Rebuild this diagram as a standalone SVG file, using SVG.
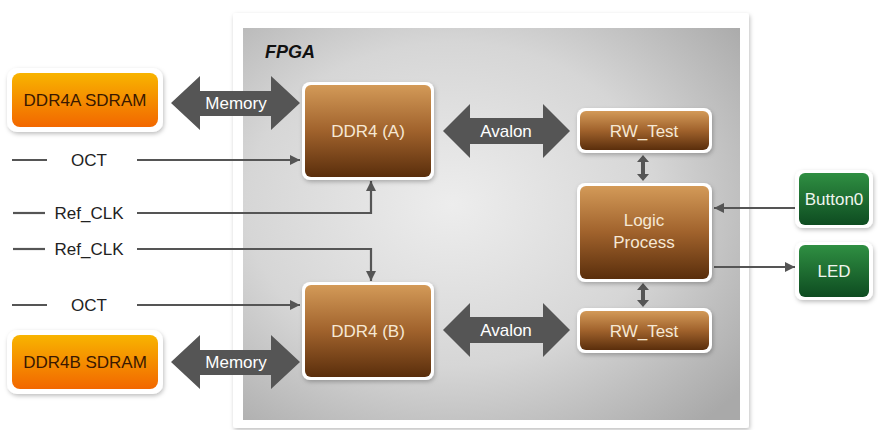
<svg xmlns="http://www.w3.org/2000/svg" width="878" height="430" viewBox="0 0 878 430">
<defs>
<radialGradient id="fpgaBg" cx="0.42" cy="0.45" r="0.75">
<stop offset="0" stop-color="#ededed"/>
<stop offset="0.55" stop-color="#d6d6d6"/>
<stop offset="1" stop-color="#a9a9a9"/>
</radialGradient>
<linearGradient id="brown" x1="0" y1="0" x2="0" y2="1">
<stop offset="0" stop-color="#d39a58"/>
<stop offset="0.5" stop-color="#a0622c"/>
<stop offset="1" stop-color="#5a2e0c"/>
</linearGradient>
<linearGradient id="orange" x1="0" y1="0" x2="0" y2="1">
<stop offset="0" stop-color="#f8b400"/>
<stop offset="1" stop-color="#f26700"/>
</linearGradient>
<linearGradient id="green" x1="0" y1="0" x2="0" y2="1">
<stop offset="0" stop-color="#2f8f42"/>
<stop offset="1" stop-color="#0e4c21"/>
</linearGradient>
<filter id="sh" x="-20%" y="-20%" width="140%" height="140%">
<feDropShadow dx="1" dy="2" stdDeviation="2" flood-color="#000" flood-opacity="0.25"/>
</filter>
<marker id="ah" viewBox="0 0 10 10" refX="10" refY="5" markerWidth="10" markerHeight="10" markerUnits="userSpaceOnUse" orient="auto">
<path d="M0,0 L10,5 L0,10 z" fill="#555"/>
</marker>
<style>
.wb{fill:#fff;filter:url(#sh);}
.lbl{font-family:"Liberation Sans",Arial,sans-serif;font-size:17px;text-anchor:middle;}
.bt{fill:#f6e8d4;}
.ot{fill:#3a1800;}
.gt{fill:#f0f5ee;}
.wt{fill:#fff;}
.kt{fill:#222;}
.ln{stroke:#555;stroke-width:2.2;fill:none;}
.fat{fill:#555;}
</style>
</defs>
<rect width="878" height="430" fill="#fff"/>
<g id="fpga">
<rect x="233" y="13" width="516" height="415" rx="3" fill="#fff" filter="url(#sh)"/>
<rect x="243" y="28" width="497" height="392" fill="url(#fpgaBg)"/>
<text x="265" y="58" font-family="Liberation Sans,Arial,sans-serif" font-size="18" font-weight="bold" font-style="italic" fill="#111">FPGA</text>
</g>
<g id="connectors">
<polygon class="fat" points="171,103 200,76 200,91 271,91 271,76 300,103 271,130 271,116 200,116 200,130"/>
<text class="lbl wt" x="236" y="109">Memory</text>
<polygon class="fat" points="171,362 200,335 200,350 271,350 271,335 300,362 271,389 271,375 200,375 200,389"/>
<text class="lbl wt" x="236" y="368">Memory</text>
<polygon class="fat" points="443,131 470,104 470,118 543,118 543,104 570,131 543,158 543,144 470,144 470,158"/>
<text class="lbl wt" x="506" y="137">Avalon</text>
<polygon class="fat" points="443,330 470,303 470,317 543,317 543,303 570,330 543,357 543,343 470,343 470,357"/>
<text class="lbl wt" x="506" y="336">Avalon</text>
<polygon class="fat" points="643,155 649,162 645,162 645,174 649,174 643,181 637,174 641,174 641,162 637,162"/>
<polygon class="fat" points="643,283 649,290 645,290 645,300 649,300 643,307 637,300 641,300 641,290 637,290"/>
<line class="ln" x1="12" y1="160" x2="47" y2="160"/>
<text class="lbl kt" x="89" y="166">OCT</text>
<line class="ln" x1="137" y1="160" x2="300" y2="160" marker-end="url(#ah)"/>
<line class="ln" x1="12" y1="305" x2="47" y2="305"/>
<text class="lbl kt" x="89" y="311">OCT</text>
<line class="ln" x1="137" y1="305" x2="300" y2="305" marker-end="url(#ah)"/>
<line class="ln" x1="13" y1="213" x2="45" y2="213"/>
<text class="lbl kt" x="89" y="219">Ref_CLK</text>
<polyline class="ln" points="137,213 371,213 371,181" marker-end="url(#ah)"/>
<line class="ln" x1="13" y1="249" x2="45" y2="249"/>
<text class="lbl kt" x="89" y="255">Ref_CLK</text>
<polyline class="ln" points="137,249 371,249 371,281" marker-end="url(#ah)"/>
<line class="ln" x1="795" y1="208" x2="714" y2="208" marker-end="url(#ah)"/>
<line class="ln" x1="714" y1="267" x2="795" y2="267" marker-end="url(#ah)"/>
</g>
<g id="ddr4a_sdram">
<rect class="wb" x="7" y="68" width="156" height="64" rx="10"/>
<rect x="12" y="73" width="146" height="54" rx="8" fill="url(#orange)"/>
<text class="lbl ot" x="85" y="106">DDR4A SDRAM</text>
</g>
<g id="ddr4b_sdram">
<rect class="wb" x="7" y="330" width="156" height="64" rx="10"/>
<rect x="12" y="335" width="146" height="54" rx="8" fill="url(#orange)"/>
<text class="lbl ot" x="85" y="368">DDR4B SDRAM</text>
</g>
<g id="ddr4_a">
<rect class="wb" x="302" y="82" width="132" height="98" rx="8"/>
<rect x="305" y="85" width="126" height="92" rx="6" fill="url(#brown)"/>
<text class="lbl bt" x="368" y="137">DDR4 (A)</text>
</g>
<g id="ddr4_b">
<rect class="wb" x="302" y="282" width="132" height="98" rx="8"/>
<rect x="305" y="285" width="126" height="92" rx="6" fill="url(#brown)"/>
<text class="lbl bt" x="368" y="337">DDR4 (B)</text>
</g>
<g id="rw_test_a">
<rect class="wb" x="577" y="108" width="135" height="45" rx="8"/>
<rect x="580" y="111" width="129" height="39" rx="6" fill="url(#brown)"/>
<text class="lbl bt" x="644" y="137">RW_Test</text>
</g>
<g id="logic_process">
<rect class="wb" x="577" y="183" width="135" height="99" rx="8"/>
<rect x="580" y="186" width="129" height="93" rx="6" fill="url(#brown)"/>
<text class="lbl bt" x="644" y="226">Logic</text>
<text class="lbl bt" x="644" y="248">Process</text>
</g>
<g id="rw_test_b">
<rect class="wb" x="577" y="308" width="135" height="45" rx="8"/>
<rect x="580" y="311" width="129" height="39" rx="6" fill="url(#brown)"/>
<text class="lbl bt" x="644" y="337">RW_Test</text>
</g>
<g id="button0">
<rect class="wb" x="795" y="170" width="78" height="58" rx="8"/>
<rect x="799" y="173" width="70" height="52" rx="6" fill="url(#green)"/>
<text class="lbl gt" x="834" y="205">Button0</text>
</g>
<g id="led">
<rect class="wb" x="795" y="242" width="78" height="58" rx="8"/>
<rect x="799" y="245" width="70" height="52" rx="6" fill="url(#green)"/>
<text class="lbl gt" x="834" y="277">LED</text>
</g>
</svg>
